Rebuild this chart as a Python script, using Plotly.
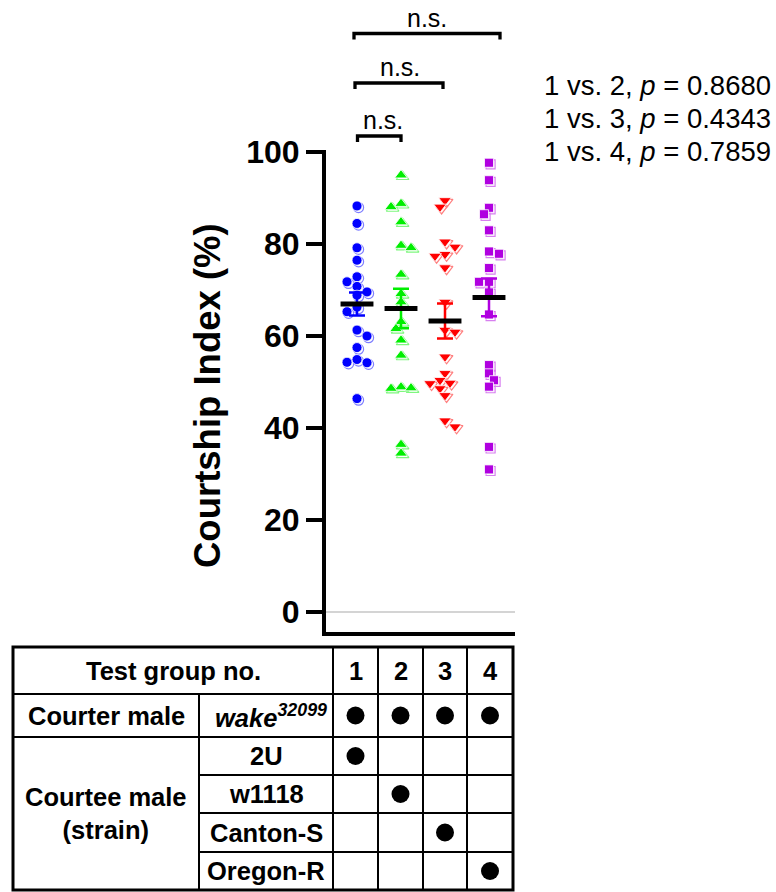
import plotly.graph_objects as go

# ---------------- data ----------------
groups = [1, 2, 3, 4]
group_names = ["1", "2", "3", "4"]
ci_group1 = [88.2, 84.4, 79.1, 76.4, 72.8, 71.7, 70.7, 69.5, 68.8, 66.2, 65.2,
             61.2, 59.9, 57.4, 54.8, 54.2, 54.1, 46.3]
ci_group2 = [94.9, 88.7, 88.0, 84.7, 79.6, 79.1, 73.3, 69.1, 67.3, 63.0, 61.5,
             59.0, 55.7, 48.8, 48.6, 48.5, 36.3, 34.4]
ci_group3 = [89.4, 88.0, 80.4, 79.3, 77.7, 77.3, 74.8, 67.3, 61.2, 60.8, 55.4,
             51.8, 50.3, 49.6, 49.7, 48.5, 47.0, 41.5, 40.2]
ci_group4 = [97.6, 93.8, 87.8, 86.4, 82.9, 78.3, 77.8, 74.7, 71.7, 71.7, 69.4,
             64.6, 53.6, 51.8, 50.3, 48.9, 35.8, 30.9]
group_means = [66.9, 65.9, 63.2, 68.3]
group_sems = [2.5, 4.3, 3.8, 4.1]
y_ticks = [0, 20, 40, 60, 80, 100]
comparisons = [(1, 2, "n.s."), (1, 3, "n.s."), (1, 4, "n.s.")]
p_texts = ["1 vs. 2, <i>p</i> = 0.8680", "1 vs. 3, <i>p</i> = 0.4343", "1 vs. 4, <i>p</i> = 0.7859"]
courter_label = "Courter male"
courter_strain = "<b><i>wake<sup>32099</sup></i></b>"
courtee_label = "<b>Courtee male<br>(strain)</b>"
courtee_strains = ["2U", "w1118", "Canton-S", "Oregon-R"]
courtee_of_group = ["2U", "w1118", "Canton-S", "Oregon-R"]

series = [ci_group1, ci_group2, ci_group3, ci_group4]

# ---------------- styles / layout ----------------
W, H = 776, 892
L, R, T, B = 326, 515, 150, 632
PX_X = 44.0           # px per group unit
PX_Y = 4.598          # px per % unit
XMIN = 1 - (357 - L) / PX_X
XMAX = XMIN + (R - L) / PX_X
YMIN = -(B - 611.5) / PX_Y
YMAX = YMIN + (B - T) / PX_Y

colors = ["#0000FF", "#00EE00", "#FF0000", "#B000E0"]
shadow_colors = ["#7F7FFF", "#7FF77F", "#FF7F7F", "#D77FEF"]
symbols = ["circle", "triangle-up", "triangle-down", "square"]
open_symbols = ["circle-open", "triangle-up-open", "triangle-down-open", "square-open"]
sizes = [10, 11, 11, 9]
FONT = "Liberation Sans, Arial, sans-serif"


def pxx(px):
    return (px - L) / (R - L)


def pxy(py):
    return (B - py) / (B - T)


def swarm_offsets(vals, diam=8.0, step=5.0):
    order = sorted(range(len(vals)), key=lambda i: -vals[i])
    placed = []
    offs = [0.0] * len(vals)
    last = 1
    for i in order:
        y = vals[i] * PX_Y
        cands = [0.0]
        for m in range(1, 10):
            cands += [-last * m * step, last * m * step]
        chosen = 0.0
        for c in cands:
            if all((c - px) ** 2 + (y - py) ** 2 >= diam ** 2 for px, py in placed):
                chosen = c
                break
        if chosen != 0:
            last = 1 if chosen > 0 else -1
        placed.append((chosen, y))
        offs[i] = chosen / PX_X
    return offs


fig = go.Figure()

# scatter points with GraphPad-like offset shadow
for g, vals, col, scol, sym, osym, sz in zip(groups, series, colors, shadow_colors,
                                            symbols, open_symbols, sizes):
    offs = swarm_offsets(vals)
    xs = [g + o for o in offs]
    fig.add_trace(go.Scatter(
        x=[x + 1.6 / PX_X for x in xs], y=[v - 1.6 / PX_Y for v in vals],
        mode="markers", hoverinfo="skip", showlegend=False,
        marker=dict(symbol=osym, size=sz, color=scol, line=dict(width=1.2, color=scol))))
    fig.add_trace(go.Scatter(
        x=xs, y=vals, mode="markers", showlegend=False,
        marker=dict(symbol=sym, size=sz, color=col, line=dict(width=0.8, color="white"))))

# error bars (SEM)
for g, m, s, col in zip(groups, group_means, group_sems, colors):
    fig.add_trace(go.Scatter(
        x=[g], y=[m], mode="markers", showlegend=False, hoverinfo="skip",
        marker=dict(size=1, color="rgba(0,0,0,0)"),
        error_y=dict(type="data", array=[s], color=col, thickness=2.5, width=8)))
# mean lines
for g, m in zip(groups, group_means):
    fig.add_trace(go.Scatter(
        x=[g], y=[m], mode="markers", showlegend=False,
        marker=dict(symbol="line-ew", size=23.5, line=dict(width=5, color="black"))))

shapes = []
annotations = []

# significance brackets
bracket_px = [(357.5, 401, 136, 142, 383, 120),
              (355, 443, 83, 89, 400, 67),
              (354, 500, 33.5, 39.5, 427, 18)]
for (a, b, lab), (x0, x1, yb, ye, tx, ty) in zip(comparisons, bracket_px):
    shapes.append(dict(type="path", xref="paper", yref="paper",
                       path=f"M {pxx(x0)},{pxy(ye)} L {pxx(x0)},{pxy(yb)} L {pxx(x1)},{pxy(yb)} L {pxx(x1)},{pxy(ye)}",
                       line=dict(color="black", width=3.3)))
    annotations.append(dict(text=lab, x=pxx(tx), y=pxy(ty), xref="paper", yref="paper",
                            showarrow=False, xanchor="center", yanchor="middle",
                            font=dict(size=25, color="black", family=FONT)))

# p-values
for i, t in enumerate(p_texts):
    annotations.append(dict(text=t, x=pxx(542), y=pxy(85 + 33 * i), xref="paper", yref="paper",
                            showarrow=False, xanchor="left", yanchor="middle",
                            font=dict(size=27.5, color="black", family=FONT)))

# y-axis title
annotations.append(dict(text="<b>Courtship Index (%)</b>", x=pxx(207), y=pxy(396),
                        xref="paper", yref="paper", showarrow=False, textangle=-90,
                        xanchor="center", yanchor="middle",
                        font=dict(size=36.5, color="black", family=FONT)))

# ---------------- table ----------------
col_edges = [13, 199, 333, 378, 423, 467, 513]
row_edges = [647, 694, 737, 775, 813, 852, 890]
group_col_centers = [(col_edges[i + 2] + col_edges[i + 3]) / 2 for i in range(4)]


def hline(y, x0, x1, w=2):
    shapes.append(dict(type="line", xref="paper", yref="paper", x0=pxx(x0), x1=pxx(x1),
                       y0=pxy(y), y1=pxy(y), line=dict(color="black", width=w)))


def vline(x, y0, y1, w=2):
    shapes.append(dict(type="line", xref="paper", yref="paper", x0=pxx(x), x1=pxx(x),
                       y0=pxy(y0), y1=pxy(y1), line=dict(color="black", width=w)))


for x in col_edges[2:-1]:
    vline(x, row_edges[0], row_edges[-1])
vline(col_edges[1], row_edges[1], row_edges[-1])
hline(row_edges[1], col_edges[0], col_edges[-1])
hline(row_edges[2], col_edges[0], col_edges[-1])
for y in row_edges[3:-1]:
    hline(y, col_edges[1], col_edges[-1])
shapes.append(dict(type="rect", xref="paper", yref="paper",
                   x0=pxx(col_edges[0]), x1=pxx(col_edges[-1]),
                   y0=pxy(row_edges[0]), y1=pxy(row_edges[-1]),
                   line=dict(color="black", width=3)))

TF = dict(size=25.5, color="black", family=FONT)


def cell_text(text, cx, cy, xanchor="center"):
    annotations.append(dict(text=text, x=pxx(cx), y=pxy(cy), xref="paper", yref="paper",
                            showarrow=False, xanchor=xanchor, yanchor="middle", font=TF))


def row_mid(i):
    return (row_edges[i] + row_edges[i + 1]) / 2


cell_text("<b>Test group no.</b>", (col_edges[0] + col_edges[2]) / 2, row_mid(0))
for name, cx in zip(group_names, group_col_centers):
    cell_text(f"<b>{name}</b>", cx, row_mid(0))
cell_text(f"<b>{courter_label}</b>", (col_edges[0] + col_edges[1]) / 2, row_mid(1))
cell_text(courter_strain, (col_edges[1] + col_edges[2]) / 2 + 5, row_mid(1))
cell_text(courtee_label, (col_edges[0] + col_edges[1]) / 2, (row_edges[2] + row_edges[-1]) / 2)
for j, s in enumerate(courtee_strains):
    cell_text(f"<b>{s}</b>", (col_edges[1] + col_edges[2]) / 2, row_mid(2 + j))

DOT_R = 9


def dot(cx, cy):
    shapes.append(dict(type="circle", xref="paper", yref="paper",
                       x0=pxx(cx - DOT_R), x1=pxx(cx + DOT_R),
                       y0=pxy(cy + DOT_R), y1=pxy(cy - DOT_R),
                       fillcolor="black", line=dict(color="black", width=0)))


for cx in group_col_centers:
    dot(cx, row_mid(1))
for cx, strain in zip(group_col_centers, courtee_of_group):
    j = courtee_strains.index(strain)
    dot(cx, row_mid(2 + j))

fig.update_layout(
    width=W, height=H, autosize=False,
    margin=dict(l=L, r=W - R, t=T, b=H - B, pad=0),
    paper_bgcolor="white", plot_bgcolor="white",
    showlegend=False,
    shapes=shapes, annotations=annotations,
    xaxis=dict(range=[XMIN, XMAX], showline=True, linewidth=4, linecolor="black",
               showgrid=False, zeroline=False, showticklabels=False, ticks="",
               fixedrange=True),
    yaxis=dict(range=[YMIN, YMAX], showline=True, linewidth=4, linecolor="black",
               showgrid=False, zeroline=True, zerolinecolor="#d4d4d4", zerolinewidth=2,
               tickvals=y_ticks, ticktext=[str(v) for v in y_ticks],
               ticks="outside", ticklen=16, tickwidth=4, tickcolor="black",
               tickfont=dict(size=32, color="black", family=FONT, weight="bold"),
               fixedrange=True),
)

fig.write_html("out.html")
